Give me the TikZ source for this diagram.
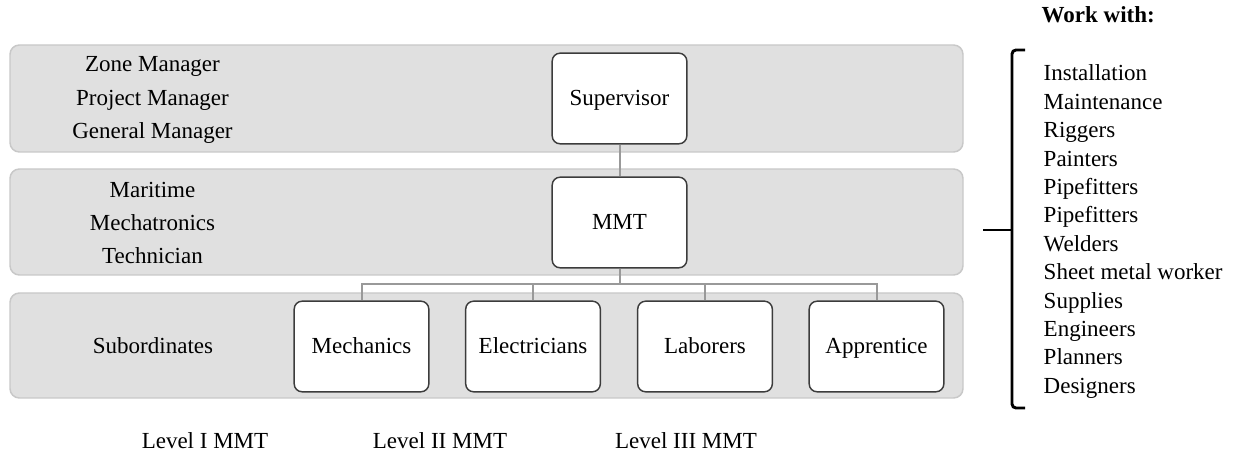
\documentclass[tikz,border=0pt]{standalone}
\usepackage{fontspec}
\setmainfont{Liberation Serif}
\definecolor{bandfill}{HTML}{E0E0E0}
\definecolor{bandline}{HTML}{C8C8C8}
\definecolor{boxline}{HTML}{3C3C3C}
\definecolor{linkgray}{HTML}{999999}
\tikzset{
	band/.style={fill=bandfill, draw=bandline, line width=1.1pt, rounded corners=7pt},
	post/.style={draw=boxline, fill=white, line width=1.1pt, rounded corners=6pt,
		minimum width=101pt, minimum height=68pt, inner sep=0pt,
		text height=10.5pt, text depth=0pt},
	link/.style={draw=linkgray, line width=1.5pt},
	lbl/.style={align=center, font=\fontsize{17.25}{25}\selectfont}
}
\begin{document}
\begin{tikzpicture}[x=0.75pt,y=-0.75pt,font=\fontsize{17.25}{21.3}\selectfont]
\useasboundingbox (0,0) rectangle (1236,459);
\foreach \top/\bot in {45/152,169/275,293/398}
	\draw [band] (10,\top) rectangle (963,\bot);

\node [lbl] (mgr) at (152.5,100) {Zone Manager\\Project Manager\\General Manager};
\node [lbl] (title) at (152.5,223) {Maritime\\Mechatronics\\Technician};
\node (sub) at (153,346) {Subordinates};

\node [post] (sup) at (619.5,98.5) {Supervisor};
\node [post] (mmt) at (619.5,222.5) {MMT};
\foreach \name/\x/\txt in {mech/361.5/Mechanics, elec/533/Electricians, lab/705/Laborers, appr/876.5/Apprentice}
	\node [post] (\name) at (\x,346.5) {\txt};

\coordinate (bus) at (619.5,284);
\draw [link] (sup) -- (mmt);
\draw [link] (mmt) -- (bus);
\foreach \name in {mech,elec,lab,appr}
	\draw [link] (\name.north) |- (bus);

\foreach \name/\x/\txt in {lvla/205/Level I MMT, lvlb/440/Level II MMT, lvlc/686/Level III MMT}
	\node [anchor=base] (\name) at (\x,449) {\txt};

\node [anchor=base west, font=\fontsize{17.25}{21.3}\selectfont\bfseries] (work) at (1037,23) {Work with:};
\foreach \txt [count=\i] in {Installation, Maintenance, Riggers, Painters, Pipefitters, Pipefitters, Welders, Sheet metal worker, Supplies, Engineers, Planners, Designers}
	\node [anchor=base west] (w\i) at (1039,{81+28.4*(\i-1)}) {\txt};

\draw [line width=2.2pt, rounded corners=3pt] (1025,50) -- (1012,50) -- (1012,408) -- (1025,408);
\draw [line width=2.2pt] (1012,230) -- (983,230);
\end{tikzpicture}
\end{document}
